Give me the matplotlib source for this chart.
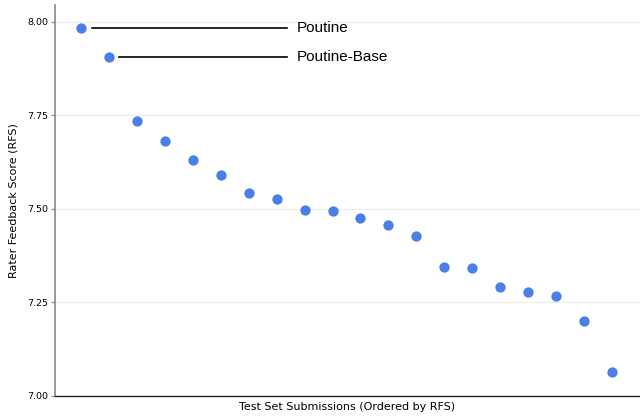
import numpy as np
import matplotlib.pyplot as plt

# RFS per test set submission, sorted descending
scores = [7.984, 7.906, 7.735, 7.682, 7.631, 7.591, 7.543, 7.527, 7.497, 7.495,
          7.476, 7.457, 7.428, 7.345, 7.342, 7.291, 7.278, 7.267, 7.201, 7.064]
labels = ['Poutine', 'Poutine-Base']
label_start = [0.39, 1.36]
yticks = [7.00, 7.25, 7.50, 7.75, 8.00]

x = np.arange(len(scores))

fig = plt.figure(figsize=(6.4, 4.16), dpi=100)
ax = fig.add_axes([55/640, 1 - 396/416, 1 - 55/640, (396 - 5)/416])

ax.scatter(x, scores, s=55, color='#4a7fe8', zorder=3, linewidths=0)

for i, lab in enumerate(labels):
    ax.plot([label_start[i], 7.36], [scores[i], scores[i]], color='black', lw=1.2)
    ax.text(7.72, scores[i], lab, va='center', ha='left', fontsize=11,
            family='Liberation Sans')

ax.set_xlim(-0.93, 20.0)
ax.set_ylim(7.0, 8.045)
ax.set_xticks([])
ax.set_yticks(yticks)
ax.set_yticklabels(['%.2f' % t for t in yticks], fontsize=6.8)
ax.grid(axis='y', color='#ececec', lw=0.8)
ax.set_axisbelow(True)
ax.spines['top'].set_visible(False)
ax.spines['right'].set_visible(False)
ax.spines['left'].set_color('#888888')
ax.spines['left'].set_linewidth(1.2)
ax.spines['bottom'].set_color('#222222')
ax.spines['bottom'].set_linewidth(1.0)
ax.tick_params(axis='y', length=3, width=0.8, color='#888888', pad=2)
ax.set_ylabel('Rater Feedback Score (RFS)', fontsize=8, labelpad=6)
ax.set_xlabel('Test Set Submissions (Ordered by RFS)', fontsize=8, labelpad=4)

fig.savefig('out.png', dpi=100)
